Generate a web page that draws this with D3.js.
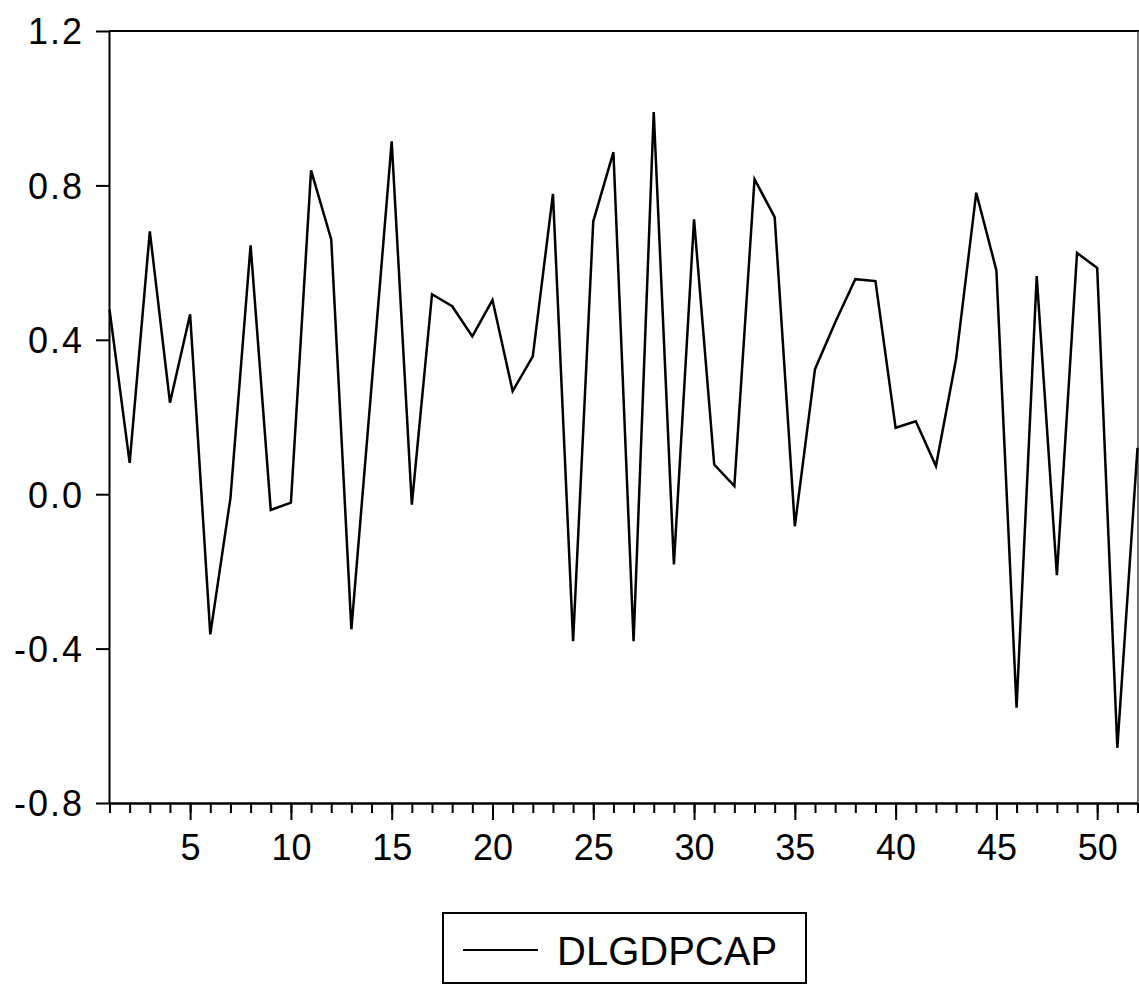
<!DOCTYPE html>
<html>
<head>
<meta charset="utf-8">
<script src="https://cdn.jsdelivr.net/npm/d3@7"></script>
<style>
  body { margin: 0; background: #fff; }
  svg { display: block; }
  .axis text { font-family: "Liberation Sans", Arial, sans-serif; font-size: 36px; fill: #000; }
  .axis--y text { letter-spacing: 2px; }
  .axis path, .axis line { stroke: #000; stroke-width: 2px; }
  .line { fill: none; stroke: #000; stroke-width: 2.5px; }
</style>
</head>
<body>
<svg width="1139" height="987"></svg>
<script>
// series name and observations 1..52
var seriesName = "DLGDPCAP";
var obs = d3.range(1, 53);
var values = [0.479, 0.081, 0.681, 0.237, 0.466, -0.363, -0.01, 0.645, -0.041, -0.022,
              0.839, 0.66, -0.35, 0.28, 0.914, -0.027, 0.518, 0.487, 0.409, 0.503,
              0.267, 0.357, 0.778, -0.381, 0.707, 0.886, -0.381, 0.99, -0.182, 0.712,
              0.077, 0.021, 0.816, 0.718, -0.083, 0.324, 0.445, 0.557, 0.552, 0.172,
              0.189, 0.073, 0.35, 0.781, 0.58, -0.553, 0.565, -0.21, 0.625, 0.586,
              -0.657, 0.12];
var yTicks = [-0.8, -0.4, 0.0, 0.4, 0.8, 1.2];
var xMajor = [5, 10, 15, 20, 25, 30, 35, 40, 45, 50];

var svg = d3.select("svg");

var x = d3.scaleLinear().domain([1, 52]).range([109.5, 1137.5]),
    y = d3.scaleLinear().domain([-0.8, 1.2]).range([803, 31]);

var data = obs.map(function(d, i) { return {t: d, v: values[i]}; });

// plain hyphen for negatives, like the original
var fmtY = function(d) { return d.toFixed(1); };

// frame: top and right borders
svg.append("line")
    .attr("x1", 109).attr("x2", 1139).attr("y1", y(1.2)).attr("y2", y(1.2))
    .attr("stroke", "#000").attr("stroke-width", 2);
svg.append("line")
    .attr("x1", 1138).attr("x2", 1138).attr("y1", y(1.2)).attr("y2", y(-0.8))
    .attr("stroke", "#444").attr("stroke-width", 1.5);

// y axis
svg.append("g")
    .attr("class", "axis axis--y")
    .attr("transform", "translate(109,0)")
    .call(d3.axisLeft(y).tickValues(yTicks).tickFormat(fmtY)
          .tickSize(13).tickSizeOuter(0).tickPadding(12))
    .selectAll("text").attr("dy", "0.36em");

// x axis minor ticks (every observation)
svg.append("g")
    .attr("class", "axis")
    .attr("transform", "translate(0,803)")
    .call(d3.axisBottom(x).tickValues(obs).tickFormat("").tickSize(10).tickSizeOuter(0));

// x axis major ticks with labels
svg.append("g")
    .attr("class", "axis")
    .attr("transform", "translate(0,803)")
    .call(d3.axisBottom(x).tickValues(xMajor).tickFormat(d3.format("d"))
          .tickSize(17).tickSizeOuter(0).tickPadding(14));

// the series line
var line = d3.line()
    .x(function(d) { return x(d.t); })
    .y(function(d) { return y(d.v); });

svg.append("path")
    .datum(data)
    .attr("class", "line")
    .attr("d", line);

// legend
var leg = svg.append("g").attr("transform", "translate(443,913)");
leg.append("rect")
    .attr("width", 363).attr("height", 70)
    .attr("fill", "#fff").attr("stroke", "#000").attr("stroke-width", 2);
leg.append("line")
    .attr("x1", 20).attr("x2", 95).attr("y1", 37).attr("y2", 37)
    .attr("stroke", "#000").attr("stroke-width", 2);
leg.append("text")
    .attr("x", 114).attr("y", 52)
    .style("font-family", "'Liberation Sans', Arial, sans-serif")
    .style("font-size", "40px")
    .text(seriesName);
</script>
</body>
</html>
